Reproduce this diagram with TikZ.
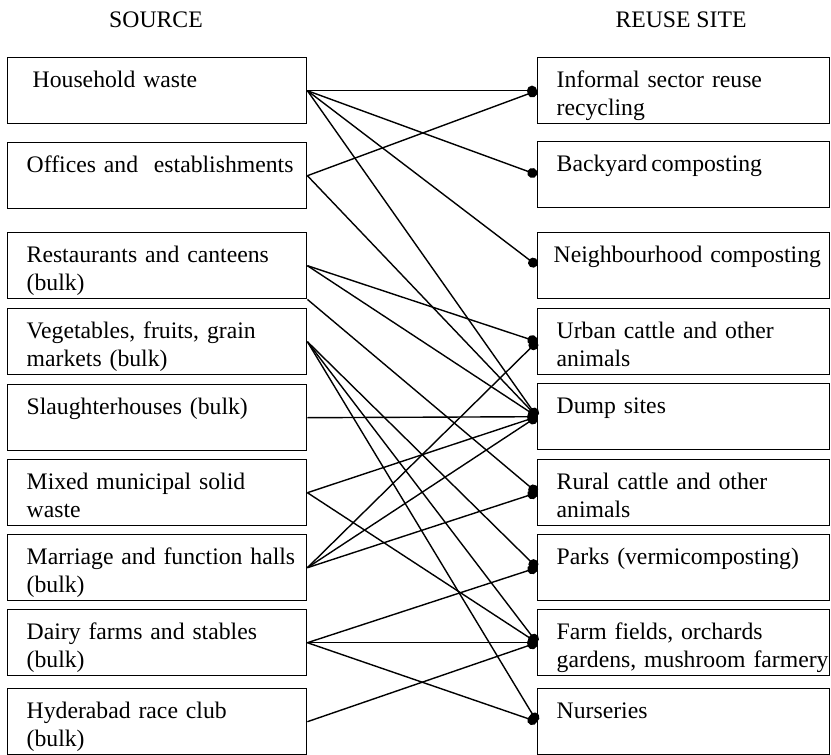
\documentclass[tikz,border=0pt]{standalone}
\usepackage{fontspec}
\setmainfont{Liberation Serif}
\usetikzlibrary{arrows.meta}
\hyphenpenalty=10000
\exhyphenpenalty=10000

\begin{document}
\begin{tikzpicture}[x=0.5pt,y=-0.5pt,font=\fontsize{11.85}{14}\selectfont,
  srcbox/.style={draw,line width=0.7pt,anchor=north west,align=left,text width=130.5pt,
    inner xsep=9.5pt,inner ysep=5pt,text height=10pt,text depth=13pt},
  sitebox/.style={srcbox,text width=127pt},
  link/.style={line width=0.7pt,-{Circle[length=5pt]}}]
  \useasboundingbox (0,0) rectangle (831,755);
  % headings
  \node[anchor=base] (srchead) at (156,27) {SOURCE};
  \node[anchor=base] (sitehead) at (681,27) {REUSE SITE};
  % sources
  \node[srcbox] (hw) at (7,57) {\hspace*{3pt}Household~waste};
  \node[srcbox] (off) at (7,142) {Offices~and~~establishments};
  \node[srcbox] (rest) at (7,232) {Restaurants~and~canteens\\(bulk)};
  \node[srcbox] (veg) at (7,308) {Vegetables,~fruits,~grain\\markets~(bulk)};
  \node[srcbox] (slh) at (7,384) {Slaughterhouses~(bulk)};
  \node[srcbox] (mix) at (7,459) {Mixed~municipal~solid\\waste};
  \node[srcbox] (mar) at (7,534) {Marriage~and~function~halls\\(bulk)};
  \node[srcbox] (dairy) at (7,609) {Dairy~farms~and~stables\\(bulk)};
  \node[srcbox] (race) at (7,688) {Hyderabad~race~club\\(bulk)};
  % reuse sites
  \node[sitebox] (infs) at (537,57) {Informal~sector~reuse\\recycling};
  \node[sitebox] (backc) at (537,141) {Backyard\,composting};
  \node[sitebox] (neighc) at (537,232) {\hspace*{-1.5pt}Neighbourhood~composting};
  \node[sitebox] (urban) at (537,308) {Urban~cattle~and~other\\animals};
  \node[sitebox] (dump) at (537,383) {Dump~sites};
  \node[sitebox] (rural) at (537,459) {Rural~cattle~and~other\\animals};
  \node[sitebox] (parks) at (537,534) {Parks~(vermicomposting)};
  \node[sitebox] (farm) at (537,609) {Farm~fields,~orchards\\gardens,~mushroom~farmery};
  \node[sitebox] (nurs) at (537,688) {Nurseries};
  % links
  \draw[link] (hw.east) -- (infs.west);
  \draw[link] (hw.east) -- (backc.west);
  \draw[link] (hw.east) -- (neighc.west);
  \draw[link] (hw.east) -- (dump.west);
  \draw[link] (off.east) -- (infs.west);
  \draw[link] (off.east) -- (dump.west);
  \draw[link] (rest.east) -- (urban.west);
  \draw[link] (rest.east) -- (dump.west);
  \draw[link] (rest.south east) -- (rural.west);
  \draw[link] (veg.east) -- (parks.west);
  \draw[link] (veg.east) -- (farm.west);
  \draw[link] (veg.east) -- (nurs.west);
  \draw[link] (slh.east) -- (dump.west);
  \draw[link] (mix.east) -- (dump.west);
  \draw[link] (mix.east) -- (farm.west);
  \draw[link] (mar.east) -- (urban.west);
  \draw[link] (mar.east) -- (dump.west);
  \draw[link] (mar.east) -- (rural.west);
  \draw[link] (dairy.east) -- (parks.west);
  \draw[link] (dairy.east) -- (farm.west);
  \draw[link] (dairy.east) -- (nurs.west);
  \draw[link] (race.east) -- (farm.west);
\end{tikzpicture}
\end{document}
